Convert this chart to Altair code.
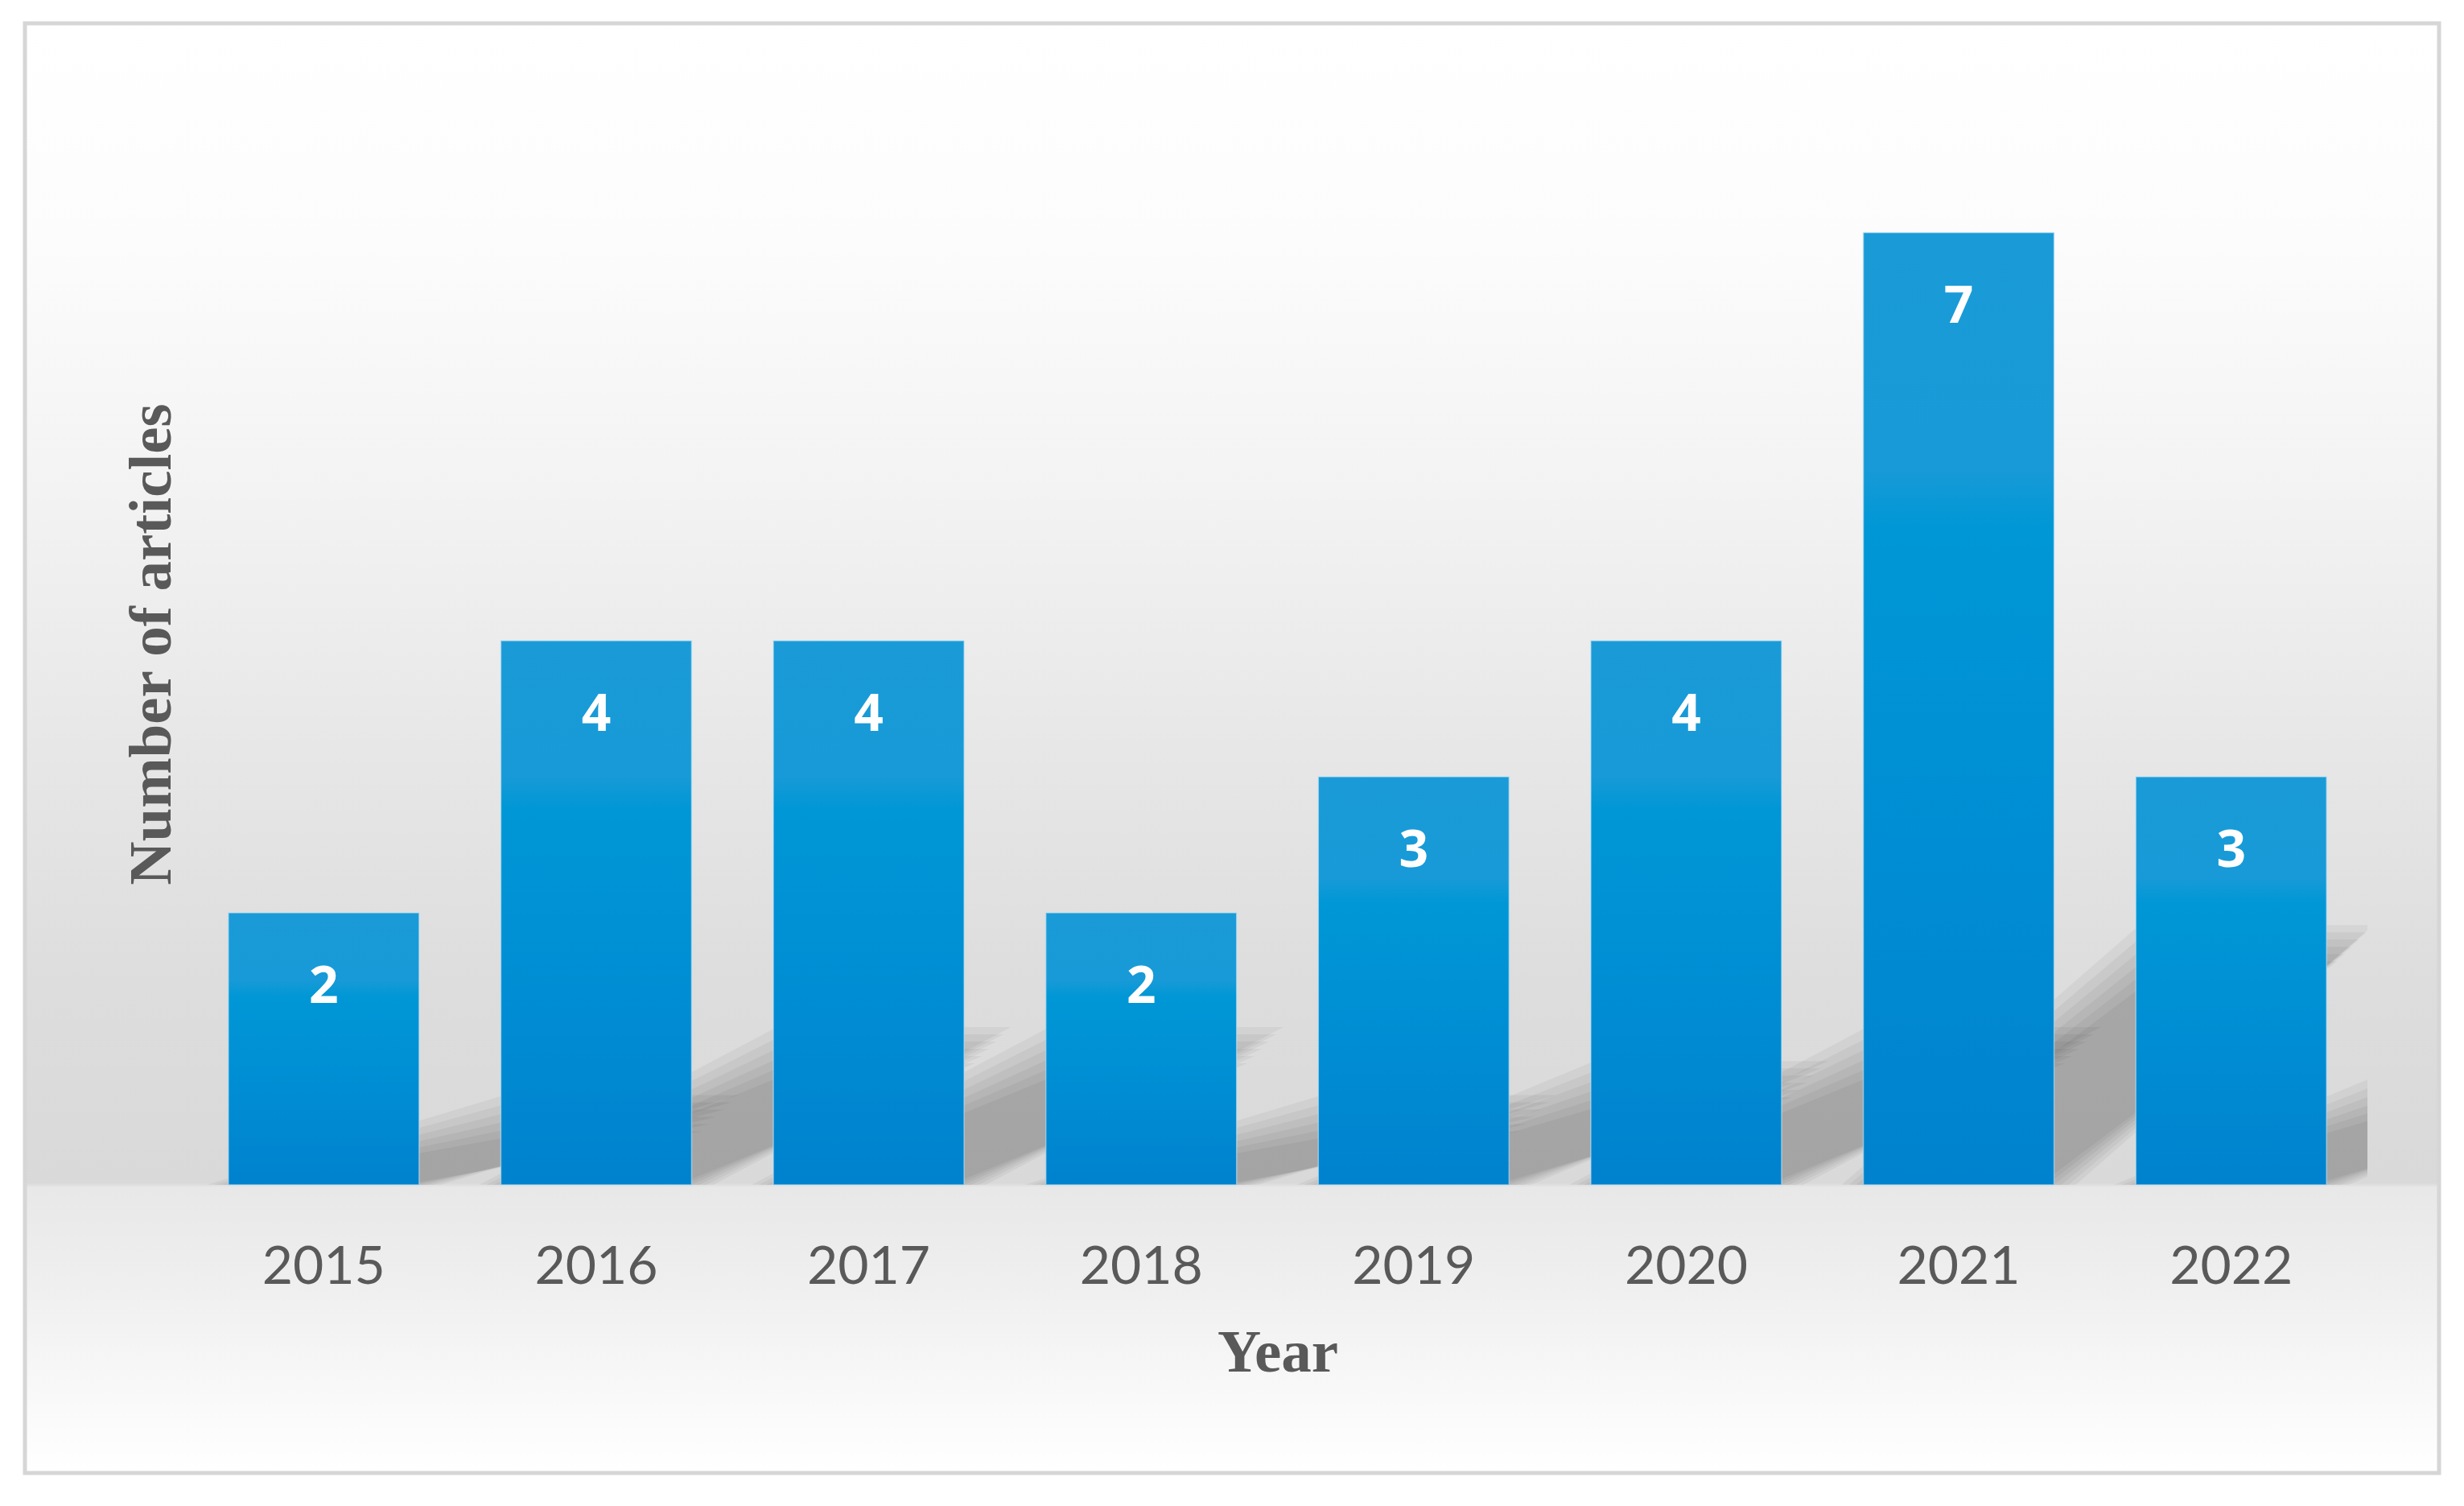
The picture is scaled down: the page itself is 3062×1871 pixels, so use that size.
import altair as alt
import pandas as pd

# ---- data ----
years = ["2015", "2016", "2017", "2018", "2019", "2020", "2021", "2022"]
articles = [2, 4, 4, 2, 3, 4, 7, 3]

# ---- layout constants ----
PLOT_W = 2709
PLOT_H = 1352
Y_MAX = 8
STEP_PX = PLOT_W / len(years)
UNIT_PX = PLOT_H / Y_MAX
HALF_BAND = 0.35          # half bar width in band steps (paddingInner 0.3)

bars_df = pd.DataFrame({"year": years, "articles": articles})

# ---- decorative perspective shadow derived from each bar ----
SHADOW_K = 0.25           # shadow height relative to bar height
SHADOW_SHIFT_PX = 370     # horizontal skew of the shadow top
BLUR_LEVELS = [27, 18, 9, 0, -9, -18]
rows = []
for i, v in enumerate(articles):
    for j, e in enumerate(BLUR_LEVELS):
        H = SHADOW_K * v + e / UNIT_PX
        xl = i - HALF_BAND - e / STEP_PX
        xr = i + HALF_BAND + e / STEP_PX
        S = SHADOW_SHIFT_PX / STEP_PX
        sid = f"{i}-{j}"
        rows += [
            {"sid": sid, "sx": xl, "top": 0.0, "bot": 0.0},
            {"sid": sid, "sx": xr, "top": (xr - xl) * H / S, "bot": 0.0},
            {"sid": sid, "sx": xl + S, "top": H, "bot": (xl + S - xr) * H / S},
            {"sid": sid, "sx": xr + S, "top": H, "bot": H},
        ]
shadow_df = pd.DataFrame(rows)

# ---- background panel with gradient and border ----
bg_gradient = alt.LinearGradient(
    gradient="linear",
    stops=[
        alt.GradientStop(color="#ffffff", offset=0.0),
        alt.GradientStop(color="#fcfcfc", offset=0.15),
        alt.GradientStop(color="#f3f3f3", offset=0.32),
        alt.GradientStop(color="#e7e7e7", offset=0.5),
        alt.GradientStop(color="#dddddd", offset=0.66),
        alt.GradientStop(color="#d9d9d9", offset=0.80),
        alt.GradientStop(color="#e8e8e8", offset=0.803),
        alt.GradientStop(color="#efefef", offset=0.87),
        alt.GradientStop(color="#f8f8f8", offset=0.94),
        alt.GradientStop(color="#ffffff", offset=1.0),
    ],
    x1=0, x2=0, y1=0, y2=1,
)
background = alt.Chart(pd.DataFrame({"a": [0]})).mark_rect(
    fill=bg_gradient, stroke="#d6d6d6", strokeWidth=5
).encode(
    x=alt.value(-202), x2=alt.value(2798),
    y=alt.value(-91), y2=alt.value(1710),
)

y_axis = alt.Axis(
    title="Number of articles",
    zindex=2,
    labels=False,
    ticks=False,
    domain=False,
    grid=False,
    titleFont="Liberation Serif",
    titleFontWeight="bold",
    titleFontSize=75,
    titleColor="#595959",
    titleAngle=270,
    titleBaseline="alphabetic",
    titleX=-22,
    titleY=680,
)
y_scale = alt.Scale(domain=[0, Y_MAX])

shadow = alt.Chart(shadow_df).mark_area(
    color="#000000", opacity=0.042, clip=True
).encode(
    x=alt.X("sx:Q", scale=alt.Scale(domain=[-0.5, len(years) - 0.5], nice=False, zero=False), axis=None),
    y=alt.Y("top:Q", scale=y_scale, axis=y_axis, title="Number of articles"),
    y2="bot:Q",
    detail="sid:N",
)

bar_gradient = alt.LinearGradient(
    gradient="linear",
    stops=[
        alt.GradientStop(color="#1a9bd8", offset=0.0),
        alt.GradientStop(color="#179ad7", offset=0.25),
        alt.GradientStop(color="#0097d6", offset=0.31),
        alt.GradientStop(color="#008dd3", offset=0.65),
        alt.GradientStop(color="#0082ce", offset=1.0),
    ],
    x1=0, x2=0, y1=0, y2=1,
)

x_enc = alt.X(
    "year:N",
    sort=years,
    scale=alt.Scale(paddingInner=0.3, paddingOuter=0.15),
    axis=alt.Axis(
        title="Year",
        zindex=2,
        labelAngle=0,
        labelFont="Lato",
        labelFontSize=66,
        labelColor="#595959",
        labelBaseline="alphabetic",
        labelPadding=122,
        tickSize=0,
        ticks=False,
        domain=False,
        grid=False,
        titleFont="Liberation Serif",
        titleFontWeight="bold",
        titleFontSize=75,
        titleColor="#595959",
        titleBaseline="alphabetic",
        titleY=231,
    ),
)

bars = alt.Chart(bars_df).mark_bar(
    fill=bar_gradient, stroke="#bfe2f4", strokeWidth=1.5, strokeOpacity=0.6
).encode(
    x=x_enc,
    y=alt.Y("articles:Q", scale=y_scale, axis=y_axis, title="Number of articles"),
)

labels = alt.Chart(bars_df).mark_text(
    color="white", font="Open Sans", fontWeight=700, fontSize=64,
    baseline="middle", dy=93,
).encode(
    x=alt.X("year:N", sort=years),
    y=alt.Y("articles:Q", scale=y_scale, axis=y_axis, title="Number of articles"),
    text=alt.Text("articles:Q"),
)

main = alt.layer(bars, labels)

chart = alt.layer(background, shadow, main).resolve_scale(x="independent").properties(
    width=PLOT_W,
    height=PLOT_H,
    padding={"left": 225, "top": 112, "right": 100, "bottom": 370},
    autosize=alt.AutoSizeParams(type="none"),
).configure_view(stroke=None).configure(background="white")

chart.save("out.html", embed_options={"renderer": "svg", "actions": False})
